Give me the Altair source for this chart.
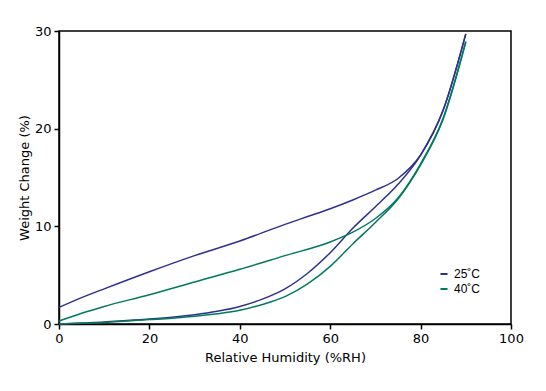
import altair as alt
import pandas as pd

# 25 C sorption (lower blue)
rh_s25 = [0, 5, 10, 15, 20, 25, 30, 35, 40, 45, 50, 55, 60, 65, 70, 75, 80, 85, 90]
wc_s25 = [0.0, 0.1, 0.2, 0.35, 0.5, 0.7, 0.95, 1.3, 1.8, 2.55, 3.6, 5.2, 7.3, 9.8, 12.0, 14.3, 17.3, 21.9, 29.7]
# 25 C desorption (upper blue)
rh_d25 = [0, 5, 10, 20, 30, 40, 50, 55, 60, 65, 70, 75, 80, 85, 90]
wc_d25 = [1.7, 2.7, 3.6, 5.35, 7.0, 8.5, 10.2, 11.0, 11.8, 12.7, 13.7, 14.9, 17.3, 21.9, 29.7]
# 40 C sorption (lower green)
rh_s40 = [0, 5, 10, 15, 20, 25, 30, 35, 40, 45, 50, 55, 60, 65, 70, 75, 80, 85, 90]
wc_s40 = [0.0, 0.08, 0.15, 0.3, 0.45, 0.6, 0.8, 1.05, 1.4, 2.0, 2.8, 4.1, 5.9, 8.2, 10.4, 12.8, 16.3, 21.0, 28.9]
# 40 C desorption (upper green)
rh_d40 = [0, 5, 10, 20, 30, 40, 50, 60, 65, 70, 75, 80, 85, 90]
wc_d40 = [0.3, 1.1, 1.8, 3.0, 4.3, 5.6, 7.0, 8.4, 9.4, 10.8, 12.9, 16.4, 21.1, 28.9]

series = ["25˚C", "40˚C"]
colors = ["#2E3192", "#007A5E"]

rows = []
for temp, branch, xs, ys in [
    (series[0], "sorption", rh_s25, wc_s25),
    (series[0], "desorption", rh_d25, wc_d25),
    (series[1], "sorption", rh_s40, wc_s40),
    (series[1], "desorption", rh_d40, wc_d40),
]:
    for x, y in zip(xs, ys):
        rows.append({"temp": temp, "branch": branch, "rh": x, "wc": y})
df = pd.DataFrame(rows)

font = "DejaVu Sans"

chart = alt.Chart(df).mark_line(interpolate="monotone", strokeWidth=1.5).encode(
    x=alt.X("rh:Q", scale=alt.Scale(domain=[0, 100], nice=False),
            axis=alt.Axis(title="Relative Humidity (%RH)", values=[0, 20, 40, 60, 80, 100],
                          grid=False, tickSize=5, titlePadding=6, labelFlush=False)),
    y=alt.Y("wc:Q", scale=alt.Scale(domain=[0, 30], nice=False),
            axis=alt.Axis(title="Weight Change (%)", values=[0, 10, 20, 30],
                          grid=False, tickSize=5, titlePadding=3, labelFlush=False)),
    color=alt.Color("temp:N", scale=alt.Scale(domain=series, range=colors),
                    legend=alt.Legend(title=None, orient="none", legendX=379, legendY=237,
                                      symbolType="stroke", symbolSize=50, symbolStrokeWidth=2,
                                      labelFontSize=12, labelFont="Liberation Sans",
                                      labelOffset=4, rowPadding=3)),
    detail="branch:N",
    order="rh:Q",
).properties(
    width=452, height=293,
    autosize=alt.AutoSizeParams(type="none"),
    padding={"left": 51, "top": 23, "right": 27, "bottom": 59},
).configure_view(
    stroke="black", strokeWidth=1.5
).configure_axis(
    domainColor="black", domainWidth=1.5, tickColor="black", tickWidth=1.5,
    labelColor="black", titleColor="black", labelFont=font, titleFont=font,
    labelFontSize=13, titleFontSize=13, titleFontWeight="normal", labelPadding=3
)

chart.save("out.html", embed_options={"renderer": "svg", "actions": False})
